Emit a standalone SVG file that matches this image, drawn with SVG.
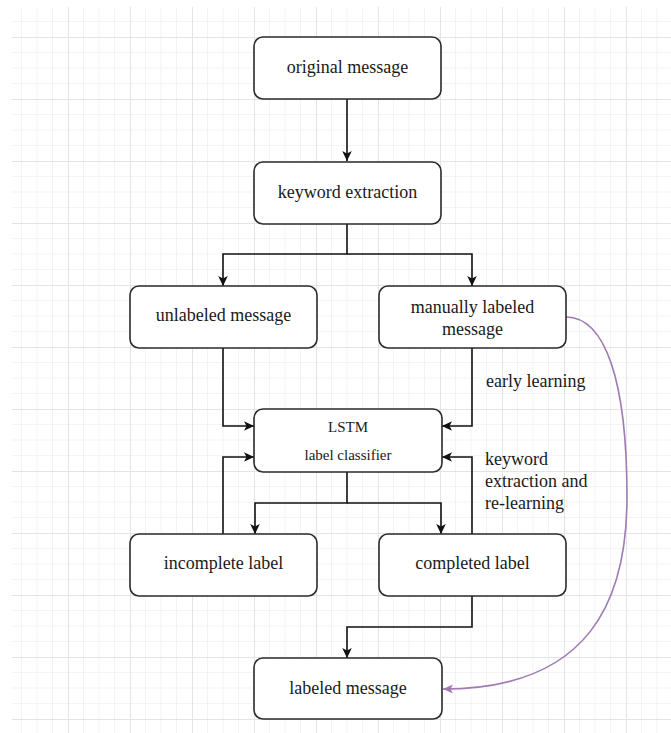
<svg xmlns="http://www.w3.org/2000/svg" width="671" height="733" viewBox="0 0 671 733">
  <defs>
    <pattern id="grid" patternUnits="userSpaceOnUse" x="6" y="-25" width="62" height="62">
      <rect x="15" y="0" width="1" height="62" fill="#f3f3f3"/>
      <rect x="30.5" y="0" width="1" height="62" fill="#f3f3f3"/>
      <rect x="46" y="0" width="1" height="62" fill="#f3f3f3"/>
      <rect x="0" y="15" width="62" height="1" fill="#f3f3f3"/>
      <rect x="0" y="30.5" width="62" height="1" fill="#f3f3f3"/>
      <rect x="0" y="46" width="62" height="1" fill="#f3f3f3"/>
      <rect x="0" y="0" width="1" height="62" fill="#e4e4e4"/>
      <rect x="0" y="0" width="62" height="1" fill="#e4e4e4"/>
    </pattern>
    <marker id="arr" markerUnits="userSpaceOnUse" markerWidth="12" markerHeight="12" refX="11" refY="6" orient="auto">
      <path d="M1,1.2 L11,6 L1,10.8 L3.5,6 Z" fill="#111"/>
    </marker>
    <marker id="arrP" markerUnits="userSpaceOnUse" markerWidth="12" markerHeight="12" refX="11" refY="6" orient="auto">
      <path d="M1,1.5 L11,6 L1,10.5 L3.5,6 Z" fill="#9f7bb4"/>
    </marker>
  </defs>
  <style>
    .node rect { fill: #ffffff; stroke: #2a2a2a; stroke-width: 1.6; }
    .node text { font-family: "Liberation Serif", "Times New Roman", serif; font-size: 18px; fill: #1a1a1a; text-anchor: middle; }
    .node text.small { font-size: 15px; }
    .lbl { font-family: "Liberation Serif", "Times New Roman", serif; font-size: 18px; fill: #1a1a1a; }
    .edge { fill: none; stroke: #111; stroke-width: 1.6; marker-end: url(#arr); }
    .curve { fill: none; stroke: #9f7bb4; stroke-width: 1.6; marker-end: url(#arrP); }
  </style>
  <rect x="0" y="0" width="671" height="733" fill="#ffffff"/>
  <rect x="12" y="7" width="659" height="726" fill="url(#grid)"/>

  <g id="connectors">
    <path class="edge" d="M347,99 L347,161"/>
    <path class="edge" d="M347,224 L347,254 L223,254 L223,286"/>
    <path class="edge" d="M347,254 L472,254 L472,286"/>
    <path class="edge" d="M223,348 L223,426 L254,426"/>
    <path class="edge" d="M472,348 L472,426 L442,426"/>
    <path class="edge" d="M347,472 L347,503 L255,503 L255,534"/>
    <path class="edge" d="M347,503 L441,503 L441,534"/>
    <path class="edge" d="M223,534 L223,457 L254,457"/>
    <path class="edge" d="M472,534 L472,457 L442,457"/>
    <path class="edge" d="M472,596 L472,627 L347,627 L347,658"/>
    <path class="curve" d="M566,317 C605,317 627,380 627,497 C627,600 590,689 443,689"/>
    <text class="lbl" x="486" y="387">early learning</text>
    <text class="lbl" x="485" y="465">keyword</text>
    <text class="lbl" x="485" y="487">extraction and</text>
    <text class="lbl" x="485" y="509">re-learning</text>
  </g>

  <g id="original-message" class="node">
    <rect x="254" y="37" width="187" height="62" rx="9"/>
    <text x="347.5" y="73">original message</text>
  </g>
  <g id="keyword-extraction" class="node">
    <rect x="254" y="162" width="187" height="62" rx="9"/>
    <text x="347.5" y="198">keyword extraction</text>
  </g>
  <g id="unlabeled-message" class="node">
    <rect x="130" y="286" width="187" height="62" rx="9"/>
    <text x="223.5" y="321">unlabeled message</text>
  </g>
  <g id="manually-labeled-message" class="node">
    <rect x="379" y="286" width="187" height="62" rx="9"/>
    <text x="472.5" y="313">manually labeled</text>
    <text x="472.5" y="335">message</text>
  </g>
  <g id="lstm-classifier" class="node">
    <rect x="254" y="409" width="188" height="63" rx="9"/>
    <text class="small" x="348" y="432">LSTM</text>
    <text class="small" x="348" y="460">label classifier</text>
  </g>
  <g id="incomplete-label" class="node">
    <rect x="130" y="534" width="187" height="62" rx="9"/>
    <text x="223.5" y="569">incomplete label</text>
  </g>
  <g id="completed-label" class="node">
    <rect x="379" y="534" width="187" height="62" rx="9"/>
    <text x="472.5" y="569">completed label</text>
  </g>
  <g id="labeled-message" class="node">
    <rect x="254" y="658" width="188" height="61" rx="9"/>
    <text x="348" y="694">labeled message</text>
  </g>
</svg>
